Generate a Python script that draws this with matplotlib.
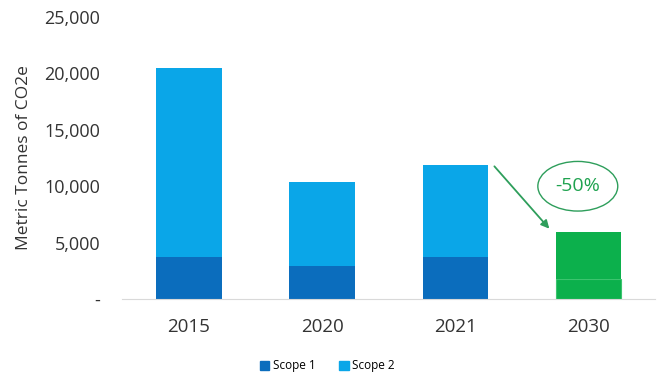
import matplotlib.pyplot as plt
from matplotlib.patches import Ellipse, Patch
from matplotlib.ticker import FuncFormatter

plt.rcParams['font.family'] = ['Open Sans', 'DejaVu Sans']

years = ['2015', '2020', '2021', '2030']
scope1 = [3700, 2900, 3700, 1800]
scope2 = [16800, 7450, 8150, 4100]
target_label = '-50%'

c1 = '#0b6dbd'
c2 = '#0aa6e8'
green = '#0cb04c'
x = list(range(len(years)))

fig = plt.figure(figsize=(6.61, 3.79), dpi=100)
ax = fig.add_axes([0.185, 0.211, 0.806, 0.744])

col1 = [c1, c1, c1, green]
col2 = [c2, c2, c2, green]
ax.bar(x, scope1, width=0.49, color=col1, label='Scope 1',
       edgecolor=['none', 'none', 'none', '#3cc46f'], linewidth=0.8)
ax.bar(x, scope2, width=0.49, bottom=scope1, color=col2, label='Scope 2',
       edgecolor='none')

ax.set_xlim(-0.5, 3.5)
ax.set_ylim(0, 25000)
ax.set_yticks(range(0, 25001, 5000))
ax.yaxis.set_major_formatter(FuncFormatter(lambda v, p: '-' if v == 0 else f'{int(v):,}'))
ax.set_xticks(x)
ax.set_xticklabels(years, fontsize=13.5, color='#333333')
ax.tick_params(axis='y', length=0, pad=16, labelsize=13, labelcolor='#333333')
ax.tick_params(axis='x', length=0, pad=14)
for s in ['top', 'right', 'left']:
    ax.spines[s].set_visible(False)
ax.spines['bottom'].set_color('#d9d9d9')
ax.set_ylabel('Metric Tonnes of CO2e', fontsize=12.5, color='#333333', labelpad=9)

# arrow and -50% bubble
top21 = scope1[2] + scope2[2]
top30 = scope1[3] + scope2[3]
ax.annotate('', xy=(2.72, top30 + 150), xytext=(2.28, top21 + 100),
            arrowprops=dict(arrowstyle='-|>', color='#2e9e5b', lw=1.3, mutation_scale=12))
ax.add_patch(Ellipse((2.92, 10000), 0.6, 4400, fill=False, edgecolor='#2e9e5b', lw=1.0))
ax.text(2.92, 10000, target_label, ha='center', va='center', fontsize=14, color='#1fa24f')

handles = [Patch(color=c1), Patch(color=c2)]
fig.legend(handles, ['Scope 1', 'Scope 2'], loc='center', bbox_to_anchor=(0.495, 0.035), ncol=2,
           frameon=False, fontsize=8.5, handlelength=0.8, handleheight=0.8,
           handletextpad=0.3, columnspacing=2.0)

fig.savefig('out.png', dpi=100)
